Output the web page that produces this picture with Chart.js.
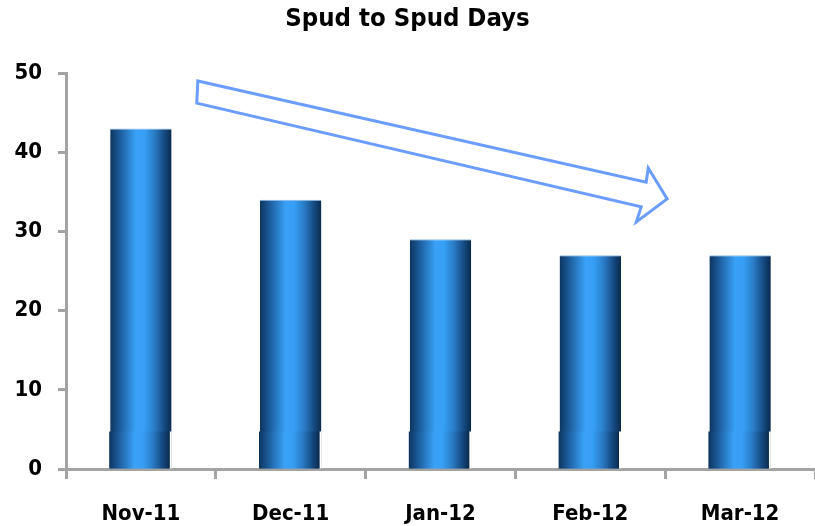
<!DOCTYPE html>
<html>
<head>
<meta charset="utf-8">
<script src="https://cdn.jsdelivr.net/npm/chart.js@4/dist/chart.umd.min.js"></script>
<style>
  body { margin: 0; background: #fff; }
  #chart { display: block; }
</style>
</head>
<body>
<canvas id="chart" width="815" height="526"></canvas>
<script>
var months = ["Nov-11", "Dec-11", "Jan-12", "Feb-12", "Mar-12"];
var spudDays = [43, 34, 29, 27, 27];
var yTicks = [0, 10, 20, 30, 40, 50];

// hollow trend arrow, as [category index, value] pairs
var arrowPts = [
  [0.38, 49.0], [3.373, 36.2], [3.387, 38.0], [3.513, 34.1],
  [3.307, 31.2], [3.34, 33.1], [0.373, 46.2]
];

var labelFont = "'Liberation Sans Narrow', 'DejaVu Sans Condensed', 'Liberation Sans', sans-serif";
var axisGray = "#a3a3a3";

function makeGradient(ctx, left, right) {
  var g = ctx.createLinearGradient(left, 0, right, 0);
  g.addColorStop(0, "#0d355f");
  g.addColorStop(0.15, "#1b5a98");
  g.addColorStop(0.42, "#39a1f7");
  g.addColorStop(0.55, "#36a0f6");
  g.addColorStop(0.72, "#2a7cc6");
  g.addColorStop(0.88, "#154a82");
  g.addColorStop(1, "#0a2a4d");
  return g;
}

function barGradient(context) {
  var chart = context.chart;
  var x = chart.scales.x;
  if (!x) return "#2f8fe0";
  var w = x.width / months.length * 0.41;
  var cx = x.getPixelForValue(context.dataIndex);
  if (!isFinite(cx) || !isFinite(w) || w <= 0) return "#2f8fe0";
  return makeGradient(chart.ctx, cx - w / 2, cx + w / 2);
}

// the little "cylinder base" at the foot of every bar
var basePlugin = {
  id: "barBase",
  afterDatasetsDraw: function (chart) {
    var ctx = chart.ctx;
    var meta = chart.getDatasetMeta(0);
    ctx.save();
    meta.data.forEach(function (bar) {
      var left = bar.x - bar.width / 2, right = bar.x + bar.width / 2;
      var bottom = bar.base, top = bottom - 37;
      ctx.fillStyle = "#ffffff";
      ctx.fillRect(right - 2, top, 2, bottom - top);
      ctx.fillStyle = makeGradient(ctx, left - 1, right - 2);
      ctx.fillRect(left - 1, top, right - left - 1, bottom - top);
    });
    ctx.restore();
  }
};

var arrowPlugin = {
  id: "arrow",
  afterDraw: function (chart) {
    var ctx = chart.ctx;
    var x = chart.scales.x, y = chart.scales.y;
    ctx.save();
    ctx.beginPath();
    arrowPts.forEach(function (p, i) {
      var px = x.getPixelForValue(p[0]), py = y.getPixelForValue(p[1]);
      if (i === 0) ctx.moveTo(px, py); else ctx.lineTo(px, py);
    });
    ctx.closePath();
    ctx.fillStyle = "#ffffff";
    ctx.fill();
    ctx.lineWidth = 3;
    ctx.lineJoin = "miter";
    ctx.strokeStyle = "#6b9dff";
    ctx.stroke();
    ctx.restore();
  }
};

var data = {
  labels: months,
  datasets: [{
    label: "Spud to Spud Days",
    data: spudDays,
    backgroundColor: barGradient,
    borderColor: "#8dbbe8",
    borderWidth: { top: 1, left: 0, right: 0, bottom: 0 },
    borderSkipped: false,
    barPercentage: 0.41,
    categoryPercentage: 1
  }]
};

var options = {
  responsive: false,
  devicePixelRatio: 1,
  animation: false,
  layout: { padding: { left: 0, right: 0, top: 0, bottom: 0 } },
  plugins: {
    legend: { display: false },
    tooltip: { enabled: false },
    title: {
      display: true,
      text: "Spud to Spud Days",
      color: "#000",
      font: { family: labelFont, size: 25.5, weight: "bold" },
      padding: { top: 4, bottom: 38.4 }
    }
  },
  scales: {
    x: {
      grid: {
        display: true,
        drawOnChartArea: false,
        tickLength: 10,
        tickWidth: 3,
        tickColor: axisGray
      },
      border: { color: axisGray, width: 3 },
      ticks: {
        color: "#000",
        padding: 22,
        font: { family: labelFont, size: 22, weight: "bold" }
      },
      afterFit: function (scale) { scale.height = 57; }
    },
    y: {
      min: 0,
      max: 50,
      afterBuildTicks: function (scale) {
        scale.ticks = yTicks.map(function (v) { return { value: v }; });
      },
      grid: {
        display: true,
        drawOnChartArea: false,
        tickLength: 8,
        tickWidth: 3,
        tickColor: axisGray
      },
      border: { color: axisGray, width: 3 },
      ticks: {
        color: "#000",
        padding: 16,
        font: { family: labelFont, size: 22, weight: "bold" }
      },
      afterFit: function (scale) { scale.width = 66; }
    }
  }
};

new Chart("chart", {
  type: "bar",
  data: data,
  options: options,
  plugins: [basePlugin, arrowPlugin]
});
</script>
</body>
</html>
